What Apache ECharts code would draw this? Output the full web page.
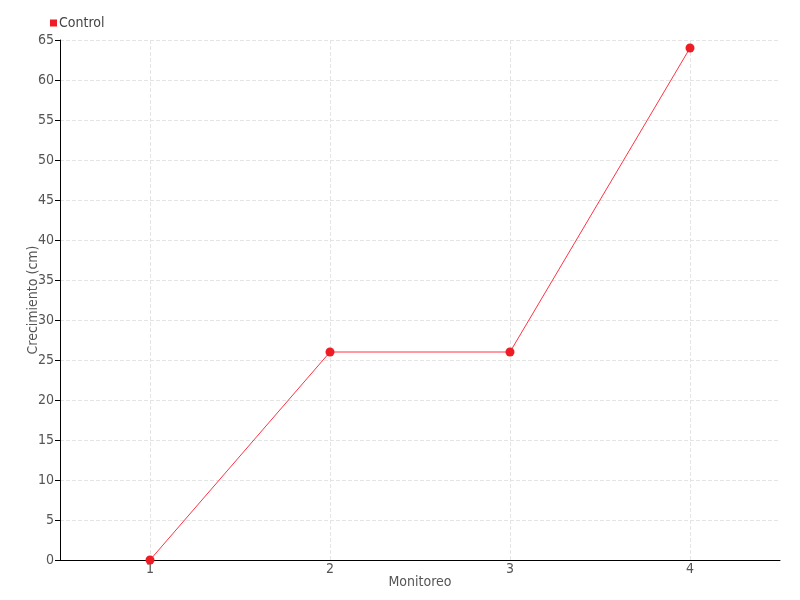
<!DOCTYPE html>
<html><head><meta charset="utf-8">
<script src="https://cdn.jsdelivr.net/npm/echarts@6/dist/echarts.min.js"></script>
<style>html,body{margin:0;padding:0;background:#fff}#c{width:800px;height:600px}</style>
</head><body><div id="c"></div>
<script>
const categories = ['1', '2', '3', '4'];
const controlValues = [0, 26, 26, 64];
const seriesName = 'Control';
const xName = 'Monitoreo';
const yName = 'Crecimiento (cm)';

const FONT = '"DejaVu Sans Condensed", "Liberation Sans Narrow", sans-serif';
const chart = echarts.init(document.getElementById('c'));
chart.setOption({
  animation: false,
  textStyle: { fontFamily: FONT },
  legend: {
    left: 45, top: 11, itemWidth: 7, itemHeight: 7, itemGap: 4,
    icon: 'rect',
    textStyle: { fontFamily: FONT, fontSize: 14, color: '#444', padding: [0, 0, 0, -3] },
    data: [seriesName]
  },
  grid: { left: 60, right: 20, top: 40, bottom: 40 },
  xAxis: {
    type: 'category', data: categories, boundaryGap: true,
    name: xName, nameLocation: 'middle', nameGap: 15, nameMoveOverlap: false,
    nameTextStyle: { fontFamily: FONT, fontSize: 14, color: '#555' },
    axisLine: { lineStyle: { color: '#000', width: 1 } },
    axisTick: { alignWithLabel: true, length: 12, inside: false, lineStyle: { color: '#555' } },
    axisLabel: { fontFamily: FONT, fontSize: 14, color: '#555', margin: 2 },
    splitLine: { show: true, interval: 0, alignWithLabel: true, lineStyle: { type: 'dashed', color: '#e4e4e4' } }
  },
  yAxis: {
    type: 'value', min: 0, max: 65, interval: 5,
    name: yName, nameLocation: 'middle', nameGap: 20, nameMoveOverlap: false,
    nameTextStyle: { fontFamily: FONT, fontSize: 14, color: '#555' },
    axisLine: { show: true, lineStyle: { color: '#000', width: 1 } },
    axisTick: { show: true, length: 5, lineStyle: { color: '#000' } },
    axisLabel: { fontFamily: FONT, fontSize: 14, color: '#555', margin: 6 },
    splitLine: { lineStyle: { type: 'dashed', color: '#e4e4e4' } }
  },
  series: [{
    name: seriesName, type: 'line', data: controlValues,
    symbol: 'circle', symbolSize: 9,
    itemStyle: { color: '#ee1c25' },
    lineStyle: { color: '#ff3344', width: 1 }
  }]
});
</script></body></html>
